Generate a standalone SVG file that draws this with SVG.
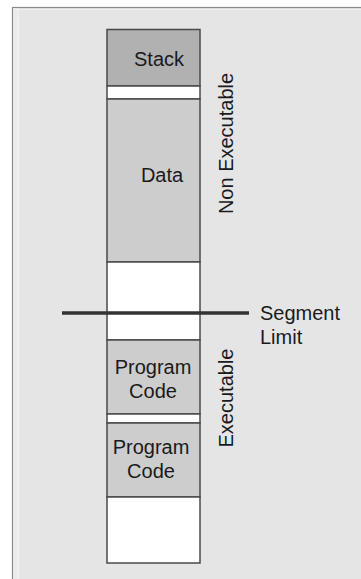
<svg xmlns="http://www.w3.org/2000/svg" width="361" height="579" viewBox="0 0 361 579">
  <style>
    .seg { stroke: #4a4a4a; stroke-width: 1.5; }
    .free { fill: #ffffff; }
    .stack { fill: #b1b1b1; }
    .data { fill: #cdcdcd; }
    .code { fill: #cdcdcd; }
    .lbl { font-family: "Liberation Sans", Arial, sans-serif; font-size: 20px; fill: #1a1a1a; }
  </style>
  <rect x="0" y="0" width="361" height="579" fill="#ffffff"/>
  <!-- background panel -->
  <g id="panel">
    <rect x="12.5" y="7.5" width="360" height="580" fill="#e5e5e5" stroke="#8a8a8a" stroke-width="1.2"/>
    <rect x="13.2" y="8.2" width="5.5" height="571" fill="#ececec"/>
    <line x1="18.5" y1="9.5" x2="18.5" y2="579" stroke="#f3f3f3" stroke-width="1"/>
    <line x1="13" y1="9.5" x2="361" y2="9.5" stroke="#f0f0f0" stroke-width="1"/>
  </g>
  <!-- memory column -->
  <g id="stack">
    <rect class="seg stack" x="107" y="29.5" width="93" height="56.5"/>
    <text class="lbl" x="159" y="66" text-anchor="middle">Stack</text>
  </g>
  <g id="gap1">
    <rect class="seg free" x="107" y="86" width="93" height="13"/>
  </g>
  <g id="data">
    <rect class="seg data" x="107" y="99" width="93" height="163"/>
    <text class="lbl" x="162" y="181.5" text-anchor="middle">Data</text>
  </g>
  <g id="gap2">
    <rect class="seg free" x="107" y="262" width="93" height="78"/>
  </g>
  <g id="code1">
    <rect class="seg code" x="107" y="340" width="93" height="74"/>
    <text class="lbl" x="153" y="374" text-anchor="middle">Program</text>
    <text class="lbl" x="153" y="398" text-anchor="middle">Code</text>
  </g>
  <g id="gap3">
    <rect class="seg free" x="107" y="414" width="93" height="9"/>
  </g>
  <g id="code2">
    <rect class="seg code" x="107" y="423" width="93" height="74"/>
    <text class="lbl" x="151" y="454" text-anchor="middle">Program</text>
    <text class="lbl" x="151" y="478" text-anchor="middle">Code</text>
  </g>
  <g id="gap4">
    <rect class="seg free" x="107" y="497" width="93" height="66"/>
  </g>
  <!-- segment limit marker -->
  <g id="connectors">
    <line x1="62" y1="313" x2="249" y2="313" stroke="#333333" stroke-width="3.5"/>
  </g>
  <g id="limit">
    <text class="lbl" x="260" y="319.5">Segment</text>
    <text class="lbl" x="260" y="343.5">Limit</text>
  </g>
  <g id="regions">
    <text class="lbl" x="233" y="143.5" text-anchor="middle" transform="rotate(-90 233 143.5)">Non Executable</text>
    <text class="lbl" x="233" y="398" text-anchor="middle" transform="rotate(-90 233 398)">Executable</text>
  </g>
</svg>
